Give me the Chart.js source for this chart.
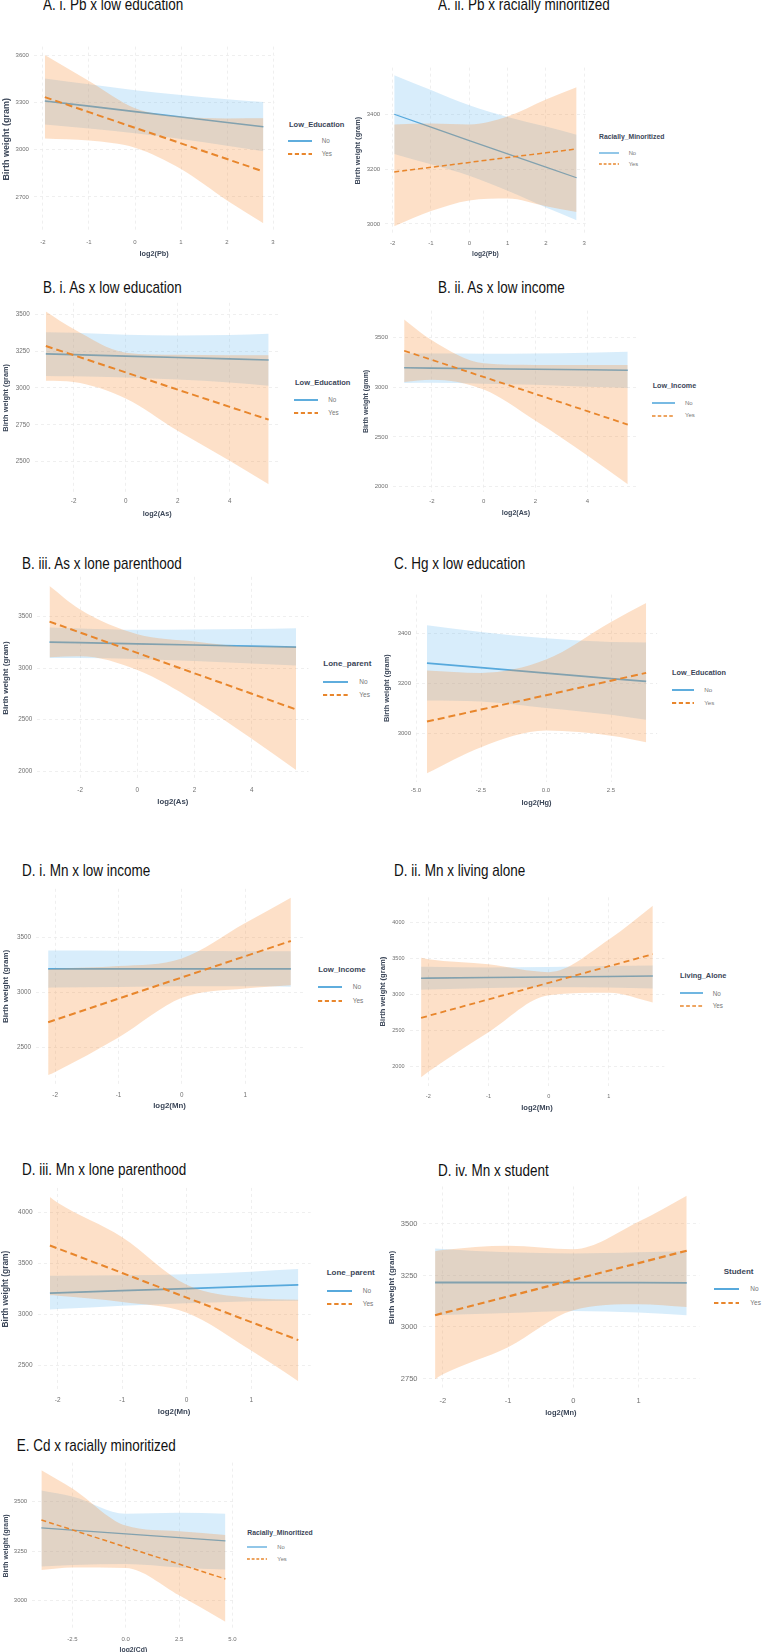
<!DOCTYPE html>
<html><head><meta charset="utf-8">
<script src="https://cdn.jsdelivr.net/npm/chart.js@4.4.0/dist/chart.umd.min.js"></script>
<style>
html,body{margin:0;padding:0;background:#fff;}
body{width:762px;height:1652px;position:relative;overflow:hidden;font-family:"Liberation Sans",Arial,sans-serif;}
.ttl{position:absolute;font-size:13.5px;color:#111;white-space:nowrap;line-height:16px;transform:scaleY(1.2);transform-origin:0 50%;}
canvas{position:absolute;}
.lgt{position:absolute;white-space:nowrap;font-weight:bold;color:#3b4658;}
.lgl{position:absolute;white-space:nowrap;color:#777;}
svg{position:absolute;overflow:visible;}
</style></head><body>
<script>
// ---------- DATA ----------
// A. i. Pb x low education
const A1_x = [-1.96, -1, 0, 1, 2, 2.79];
const A1_noFit = [3311, 3278, 3243, 3209, 3174, 3147];
const A1_noLo = [3161, 3136, 3106, 3069, 3026, 2990];
const A1_noHi = [3455, 3418, 3380, 3349, 3322, 3304];
const A1_yesFit = [3336, 3240, 3140, 3041, 2941, 2862];
const A1_yesLo = [3072, 3059, 3013, 2877, 2677, 2531];
const A1_yesHi = [3604, 3438, 3265, 3212, 3200, 3201];
const A1_xTicks = [-2, -1, 0, 1, 2, 3];
const A1_yTicks = [2700, 3000, 3300, 3600];

// A. ii. Pb x racially minoritized
const A2_x = [-1.96, -1, 0, 1, 2, 2.8];
const A2_noFit = [3401, 3354, 3305, 3256, 3208, 3169];
const A2_noLo = [3256, 3218, 3176, 3121, 3060, 3014];
const A2_noHi = [3544, 3490, 3434, 3391, 3356, 3326];
const A2_yesFit = [3190, 3207, 3225, 3243, 3260, 3274];
const A2_yesLo = [2992, 3047, 3086, 3093, 3065, 3044];
const A2_yesHi = [3364, 3367, 3364, 3393, 3455, 3500];
const A2_xTicks = [-2, -1, 0, 1, 2, 3];
const A2_yTicks = [3000, 3200, 3400];

// B. i. As x low education
const B1_x = [-3.07, -2, 0, 2, 4, 5.5];
const B1_noFit = [3232, 3227, 3217, 3207, 3198, 3190];
const B1_noLo = [3082, 3079, 3072, 3057, 3038, 3015];
const B1_noHi = [3379, 3375, 3362, 3357, 3360, 3368];
const B1_yesFit = [3285, 3223, 3106, 2989, 2872, 2785];
const B1_yesLo = [3049, 3040, 2928, 2709, 2506, 2347];
const B1_yesHi = [3520, 3400, 3240, 3225, 3222, 3223];
const B1_xTicks = [-2, 0, 2, 4];
const B1_yTicks = [2500, 2750, 3000, 3250, 3500];

// B. ii. As x low income
const B2_x = [-3.07, -2, 0, 2, 4, 5.56];
const B2_noFit = [3196, 3193, 3187, 3182, 3176, 3172];
const B2_noLo = [3043, 3045, 3035, 3025, 3005, 2993];
const B2_noHi = [3341, 3340, 3338, 3340, 3348, 3358];
const B2_yesFit = [3368, 3276, 3104, 2932, 2760, 2625];
const B2_yesLo = [3053, 3076, 2977, 2662, 2314, 2025];
const B2_yesHi = [3683, 3474, 3241, 3225, 3225, 3225];
const B2_xTicks = [-2, 0, 2, 4];
const B2_yTicks = [2000, 2500, 3000, 3500];

// B. iii. As x lone parenthood
const B3_x = [-3.07, -2, 0, 2, 4, 5.55];
const B3_noFit = [3253, 3247, 3236, 3225, 3213, 3205];
const B3_noLo = [3099, 3098, 3090, 3070, 3045, 3026];
const B3_noHi = [3394, 3385, 3372, 3375, 3380, 3388];
const B3_yesFit = [3452, 3346, 3148, 2950, 2752, 2599];
const B3_yesLo = [3106, 3115, 2981, 2683, 2314, 2010];
const B3_yesHi = [3798, 3570, 3330, 3260, 3210, 3211];
const B3_xTicks = [-2, 0, 2, 4];
const B3_yTicks = [2000, 2500, 3000, 3500];

// C. Hg x low education
const C_x = [-4.58, -2.5, 0, 2.5, 3.85];
const C_noFit = [3281, 3263, 3241, 3219, 3208];
const C_noLo = [3132, 3128, 3102, 3075, 3055];
const C_noHi = [3432, 3405, 3380, 3365, 3363];
const C_yesFit = [3048, 3096, 3153, 3211, 3242];
const C_yesLo = [2842, 2946, 3012, 2992, 2966];
const C_yesHi = [3252, 3242, 3295, 3445, 3520];
const C_xTicks = [-5, -2.5, 0, 2.5];
const C_yTicks = [3000, 3200, 3400];

// D. i. Mn x low income
const D1_x = [-2.11, -2, -1, 0, 1, 1.72];
const D1_noFit = [3215, 3215, 3215, 3215, 3215, 3215];
const D1_noLo = [3042, 3044, 3050, 3055, 3055, 3052];
const D1_noHi = [3382, 3381, 3380, 3377, 3375, 3374];
const D1_yesFit = [2728, 2749, 2943, 3136, 3330, 3469];
const D1_yesLo = [2245, 2274, 2588, 2950, 3035, 3066];
const D1_yesHi = [3210, 3215, 3240, 3310, 3633, 3864];
const D1_xTicks = [-2, -1, 0, 1];
const D1_yTicks = [2500, 3000, 3500];

// D. ii. Mn x living alone
const D2_x = [-2.12, -2, -1, 0, 1, 1.73];
const D2_noFit = [3226, 3227, 3235, 3243, 3251, 3257];
const D2_noLo = [3065, 3068, 3090, 3100, 3098, 3083];
const D2_noHi = [3385, 3384, 3375, 3381, 3395, 3404];
const D2_yesFit = [2675, 2703, 2932, 3162, 3392, 3560];
const D2_yesLo = [1850, 1927, 2477, 2990, 3023, 2890];
const D2_yesHi = [3509, 3490, 3418, 3310, 3762, 4230];
const D2_xTicks = [-2, -1, 0, 1];
const D2_yTicks = [2000, 2500, 3000, 3500, 4000];

// D. iii. Mn x lone parenthood
const D3_x = [-2.12, -2, -1, 0, 1, 1.73];
const D3_noFit = [3209, 3212, 3233, 3254, 3275, 3290];
const D3_noLo = [3048, 3052, 3085, 3110, 3130, 3135];
const D3_noHi = [3380, 3380, 3385, 3395, 3420, 3445];
const D3_yesFit = [3677, 3648, 3407, 3165, 2924, 2748];
const D3_yesLo = [3187, 3184, 3122, 3016, 2645, 2345];
const D3_yesHi = [4152, 4096, 3758, 3290, 3161, 3145];
const D3_xTicks = [-2, -1, 0, 1];
const D3_yTicks = [2500, 3000, 3500, 4000];

// D. iv. Mn x student
const D4_x = [-2.12, -2, -1, 0, 1, 1.74];
const D4_noFit = [3216, 3216, 3216, 3215, 3215, 3214];
const D4_noLo = [3057, 3058, 3068, 3078, 3070, 3057];
const D4_noHi = [3381, 3378, 3362, 3357, 3363, 3368];
const D4_yesFit = [3057, 3067, 3148, 3229, 3310, 3370];
const D4_yesLo = [2746, 2770, 2902, 3081, 3110, 3097];
const D4_yesHi = [3368, 3373, 3394, 3377, 3510, 3637];
const D4_xTicks = [-2, -1, 0, 1];
const D4_yTicks = [2750, 3000, 3250, 3500];

// E. Cd x racially minoritized
const E_x = [-3.95, -2.5, 0, 2.5, 4.67];
const E_noFit = [3368, 3357, 3338, 3319, 3302];
const E_noLo = [3173, 3180, 3185, 3168, 3157];
const E_noHi = [3557, 3527, 3440, 3445, 3440];
const E_yesFit = [3408, 3358, 3271, 3185, 3110];
const E_yesLo = [3155, 3168, 3165, 3027, 2893];
const E_yesHi = [3660, 3568, 3380, 3351, 3332];
const E_xTicks = [-2.5, 0, 2.5, 5];
const E_yTicks = [3000, 3250, 3500];

const GROUP_LABELS = ['No', 'Yes'];
const Y_LABEL = 'Birth weight (gram)';

// ---------- STYLE ----------
const FAM = "'Liberation Sans', Arial, sans-serif";
const BLUE = '#57a9dc';
const ORANGE = '#e8862c';
const BLUE_BAND = 'rgba(100,185,240,0.25)';
const ORANGE_BAND = 'rgba(248,140,50,0.27)';
const GRID = '#ebebeb';
const TICK_C = '#707070';
const AXT_C = '#3b4658';

// ---------- PANELS (layout only) ----------
const PANELS = [
 {t:'A. i. Pb x low education', tp:[43,5], x:A1_x, d:[A1_noLo,A1_noHi,A1_noFit,A1_yesLo,A1_yesHi,A1_yesFit], xt:A1_xTicks, yt:A1_yTicks, xl:'log2(Pb)', dec:false,
  xr:[-2.1975,3.0275], yr:[2477.3,3657.7], area:[33.9,44.1,274.3,231.8], ytx:7, xty:253, xly:242, fs:[6,7.3,9], lw:2, dash:[7,4],
  lg:{t:'Low_Education', x:289, y:124, fs:7.5, k:[288,312], lx:321.7, ny:141, yy:154, lfs:6.3, kw:1.9}},
 {t:'A. ii. Pb x racially minoritized', tp:[438,5], x:A2_x, d:[A2_noLo,A2_noHi,A2_noFit,A2_yesLo,A2_yesHi,A2_yesFit], xt:A2_xTicks, yt:A2_yTicks, xl:'log2(Pb)', dec:false,
  xr:[-2.198,3.038], yr:[2964.4,3571.6], area:[385.1,65.0,585.7,233.7], ytx:359, xty:253, xly:243, fs:[6,6.7,7.4], lw:1.5, dash:[5,3],
  lg:{t:'Racially_Minoritized', x:599, y:137, fs:6.8, k:[599,619], lx:628.7, ny:153, yy:164, lfs:5.8, kw:1.3}},
 {t:'B. i. As x low education', tp:[43,288], x:B1_x, d:[B1_noLo,B1_noHi,B1_noFit,B1_yesLo,B1_yesHi,B1_yesFit], xt:B1_xTicks, yt:B1_yTicks, xl:'log2(As)', dec:false,
  xr:[-3.4985,5.9285], yr:[2288.3,3578.7], area:[34.7,300.2,279.8,492.8], ytx:6.7, xty:513.3, xly:501.7, fs:[6.3,7.25,7.4], lw:2, dash:[7,4],
  lg:{t:'Low_Education', x:295, y:382.7, fs:7.5, k:[294,318], lx:328.3, ny:400, yy:412.7, lfs:6.3, kw:1.9}},
 {t:'B. ii. As x low income', tp:[438,288], x:B2_x, d:[B2_noLo,B2_noHi,B2_noFit,B2_yesLo,B2_yesHi,B2_yesFit], xt:B2_xTicks, yt:B2_yTicks, xl:'log2(As)', dec:false,
  xr:[-3.5,5.99], yr:[1942,3772], area:[393.0,308.3,638.9,492.4], ytx:366.7, xty:512.3, xly:501.7, fs:[6,7.1,6.9], lw:1.8, dash:[6,4],
  lg:{t:'Low_Income', x:652.7, y:386.7, fs:7.2, k:[652,675], lx:685, ny:403.3, yy:415.7, lfs:6, kw:1.6}},
 {t:'B. iii. As x lone parenthood', tp:[22,564.3], x:B3_x, d:[B3_noLo,B3_noHi,B3_noFit,B3_yesLo,B3_yesHi,B3_yesFit], xt:B3_xTicks, yt:B3_yTicks, xl:'log2(As)', dec:false,
  xr:[-3.501,5.981], yr:[1920.6,3887.4], area:[37.2,574.7,308.4,779.3], ytx:6.7, xty:801.7, xly:790, fs:[6.3,7.75,8], lw:2, dash:[7,4],
  lg:{t:'Lone_parent', x:323.3, y:663.3, fs:8, k:[323,348], lx:359.3, ny:681.7, yy:695, lfs:6.5, kw:1.9}},
 {t:'C. Hg x low education', tp:[394,564.3], x:C_x, d:[C_noLo,C_noHi,C_noFit,C_yesLo,C_yesHi,C_yesFit], xt:C_xTicks, yt:C_yTicks, xl:'log2(Hg)', dec:true,
  xr:[-5.0015,4.2715], yr:[2808.1,3553.9], area:[416.0,592.5,657.1,781.8], ytx:388.3, xty:801.7, xly:790.7, fs:[6,7.4,7.4], lw:2, dash:[7,4],
  lg:{t:'Low_Education', x:672, y:673.3, fs:7.3, k:[672,694], lx:704.3, ny:690, yy:702.7, lfs:6.2, kw:1.9}},
 {t:'D. i. Mn x low income', tp:[22,871], x:D1_x, d:[D1_noLo,D1_noHi,D1_noFit,D1_yesLo,D1_yesHi,D1_yesFit], xt:D1_xTicks, yt:D1_yTicks, xl:'log2(Mn)', dec:false,
  xr:[-2.30,1.91], yr:[2164,3945], area:[36.1,886.2,302.9,1084.0], ytx:6.7, xty:1106, xly:1095, fs:[6.3,7.85,8], lw:2, dash:[7,4],
  lg:{t:'Low_Income', x:318.3, y:970, fs:7.8, k:[318,342], lx:352.7, ny:987.3, yy:1000.7, lfs:6.5, kw:1.9}},
 {t:'D. ii. Mn x living alone', tp:[394,871], x:D2_x, d:[D2_noLo,D2_noHi,D2_noFit,D2_yesLo,D2_yesHi,D2_yesFit], xt:D2_xTicks, yt:D2_yTicks, xl:'log2(Mn)', dec:false,
  xr:[-2.3125,1.9225], yr:[1731,4349], area:[409.5,895.7,664.4,1085.9], ytx:383, xty:1107.3, xly:1096.7, fs:[5.5,7.6,7.6], lw:1.8, dash:[6,4],
  lg:{t:'Living_Alone', x:680, y:976.7, fs:7.4, k:[680,703], lx:712.7, ny:993.3, yy:1006, lfs:6.3, kw:1.7}},
 {t:'D. iii. Mn x lone parenthood', tp:[22,1170], x:D3_x, d:[D3_noLo,D3_noHi,D3_noFit,D3_yesLo,D3_yesHi,D3_yesFit], xt:D3_xTicks, yt:D3_yTicks, xl:'log2(Mn)', dec:false,
  xr:[-2.3125,1.9225], yr:[2255,4242], area:[37.5,1185.0,310.7,1390.3], ytx:6.7, xty:1411.7, xly:1400.7, fs:[6.5,7.85,8.4], lw:2, dash:[7,4],
  lg:{t:'Lone_parent', x:326.7, y:1272.7, fs:8, k:[327,352], lx:362.7, ny:1290.7, yy:1304, lfs:6.5, kw:2}},
 {t:'D. iv. Mn x student', tp:[438,1170.7], x:D4_x, d:[D4_noLo,D4_noHi,D4_noFit,D4_yesLo,D4_yesHi,D4_yesFit], xt:D4_xTicks, yt:D4_yTicks, xl:'log2(Mn)', dec:false,
  xr:[-2.313,1.933], yr:[2701.4,3681.6], area:[422.5,1183.9,699.3,1388.5], ytx:392.7, xty:1411.7, xly:1400.7, fs:[7.5,7.5,8], lw:2.2, dash:[7,4],
  lg:{t:'Student', x:723.7, y:1271.7, fs:8, k:[714,739], lx:750.3, ny:1289.3, yy:1302.7, lfs:6.5, kw:2}},
 {t:'E. Cd x racially minoritized', tp:[16.7,1446], x:E_x, d:[E_noLo,E_noHi,E_noFit,E_yesLo,E_yesHi,E_yesFit], xt:E_xTicks, yt:E_yTicks, xl:'log2(Cd)', dec:true,
  xr:[-4.381,5.101], yr:[2854.6,3698.4], area:[32.2,1460.6,234.6,1629.4], ytx:6.7, xty:1649.3, xly:1639, fs:[6,6.8,6.9], lw:1.5, dash:[5,3],
  lg:{t:'Racially_Minoritized', x:247.3, y:1532.7, fs:6.8, k:[247,267], lx:277.3, ny:1547.3, yy:1559.3, lfs:5.8, kw:1.3}}
];

function addDiv(cls, text, left, top, fs){
  const d = document.createElement('div');
  d.className = cls; d.textContent = text;
  d.style.left = left + 'px'; d.style.top = top + 'px';
  if (fs) { d.style.fontSize = fs + 'px'; d.style.lineHeight = (fs*1.2) + 'px'; }
  document.body.appendChild(d);
  return d;
}
function keyLine(x1, x2, y, color, dash, w){
  const ns = 'http://www.w3.org/2000/svg';
  const s = document.createElementNS(ns, 'svg');
  s.setAttribute('width', x2 - x1); s.setAttribute('height', 4);
  s.style.left = x1 + 'px'; s.style.top = (y - 2) + 'px';
  const l = document.createElementNS(ns, 'line');
  l.setAttribute('x1', 0); l.setAttribute('x2', x2 - x1);
  l.setAttribute('y1', 2); l.setAttribute('y2', 2);
  l.setAttribute('stroke', color); l.setAttribute('stroke-width', w);
  if (dash) l.setAttribute('stroke-dasharray', dash.join(' '));
  s.appendChild(l); document.body.appendChild(s);
}

function build(p){
  // title
  addDiv('ttl', p.t, p.tp[0], p.tp[1] - 8);
  // legend
  const L = p.lg;
  addDiv('lgt', L.t, L.x, L.y - L.fs*0.6, L.fs);
  keyLine(L.k[0], L.k[1], L.ny, BLUE, null, L.kw);
  keyLine(L.k[0], L.k[1], L.yy, ORANGE, [L.kw*2.2, L.kw*1.4], L.kw);
  addDiv('lgl', GROUP_LABELS[0], L.lx, L.ny - L.lfs*0.6, L.lfs);
  addDiv('lgl', GROUP_LABELS[1], L.lx, L.yy - L.lfs*0.6, L.lfs);

  const [l, t, r, b] = p.area;
  const [tfs, xfs, yfs] = p.fs;
  const cl = Math.floor(p.ytx - 0.6*yfs);
  const ct = Math.floor(t - 6);
  const cr = Math.ceil(r + 8);
  const cb = Math.ceil(p.xty + 0.6*xfs);
  const cv = document.createElement('canvas');
  cv.width = cr - cl; cv.height = cb - ct;
  cv.style.left = cl + 'px'; cv.style.top = ct + 'px';
  cv.style.width = (cr - cl) + 'px'; cv.style.height = (cb - ct) + 'px';
  document.body.appendChild(cv);
  const yw = l - cl, xh = cb - b, pt = t - ct, pr = cr - r;
  const xpad = Math.max(0, p.xly - b - tfs*0.6);
  const pts = arr => p.x.map((xv, i) => ({x: xv, y: arr[i]}));
  const bandBase = {pointRadius:0, borderWidth:0, borderColor:'transparent', cubicInterpolationMode:'monotone'};
  const ds = [
    Object.assign({data:pts(p.d[0]), fill:false, order:6}, bandBase),
    Object.assign({data:pts(p.d[1]), fill:'-1', backgroundColor:BLUE_BAND, order:5}, bandBase),
    {data:pts(p.d[2]), borderColor:BLUE, borderWidth:p.lw*0.85, pointRadius:0, fill:false, order:4},
    Object.assign({data:pts(p.d[3]), fill:false, order:3}, bandBase),
    Object.assign({data:pts(p.d[4]), fill:'-1', backgroundColor:ORANGE_BAND, order:2}, bandBase),
    {data:pts(p.d[5]), borderColor:ORANGE, borderWidth:p.lw, borderDash:p.dash, pointRadius:0, fill:false, order:1}
  ];
  new Chart(cv, {
    type:'line',
    data:{datasets:ds},
    options:{
      responsive:false, animation:false, events:[],
      layout:{padding:{left:0, top:pt, right:pr, bottom:0}},
      plugins:{legend:{display:false}, tooltip:{enabled:false}},
      scales:{
        x:{type:'linear', min:p.xr[0], max:p.xr[1],
          afterBuildTicks:s=>{ s.ticks = p.xt.map(v=>({value:v})); },
          afterFit:s=>{ s.height = xh; },
          grid:{color:GRID, lineWidth:0.8, drawTicks:false},
          border:{display:false, dash:[3,3]},
          ticks:{autoSkip:false, maxRotation:0, padding:xpad, color:TICK_C, font:{size:tfs, family:FAM},
            callback:v=> p.dec ? Number(v).toFixed(1) : String(v)},
          title:{display:true, text:p.xl, color:AXT_C, padding:0, font:{size:xfs, weight:'bold', family:FAM}}},
        y:{type:'linear', min:p.yr[0], max:p.yr[1],
          afterBuildTicks:s=>{ s.ticks = p.yt.map(v=>({value:v})); },
          afterFit:s=>{ s.width = yw; },
          grid:{color:GRID, lineWidth:0.8, drawTicks:false},
          border:{display:false, dash:[3,3]},
          ticks:{autoSkip:false, padding:5, color:TICK_C, font:{size:tfs, family:FAM},
            callback:v=> String(v)},
          title:{display:true, text:Y_LABEL, color:AXT_C, padding:0, font:{size:yfs, weight:'bold', family:FAM}}}
      }
    }
  });
}
PANELS.forEach(build);
</script>
</body></html>
